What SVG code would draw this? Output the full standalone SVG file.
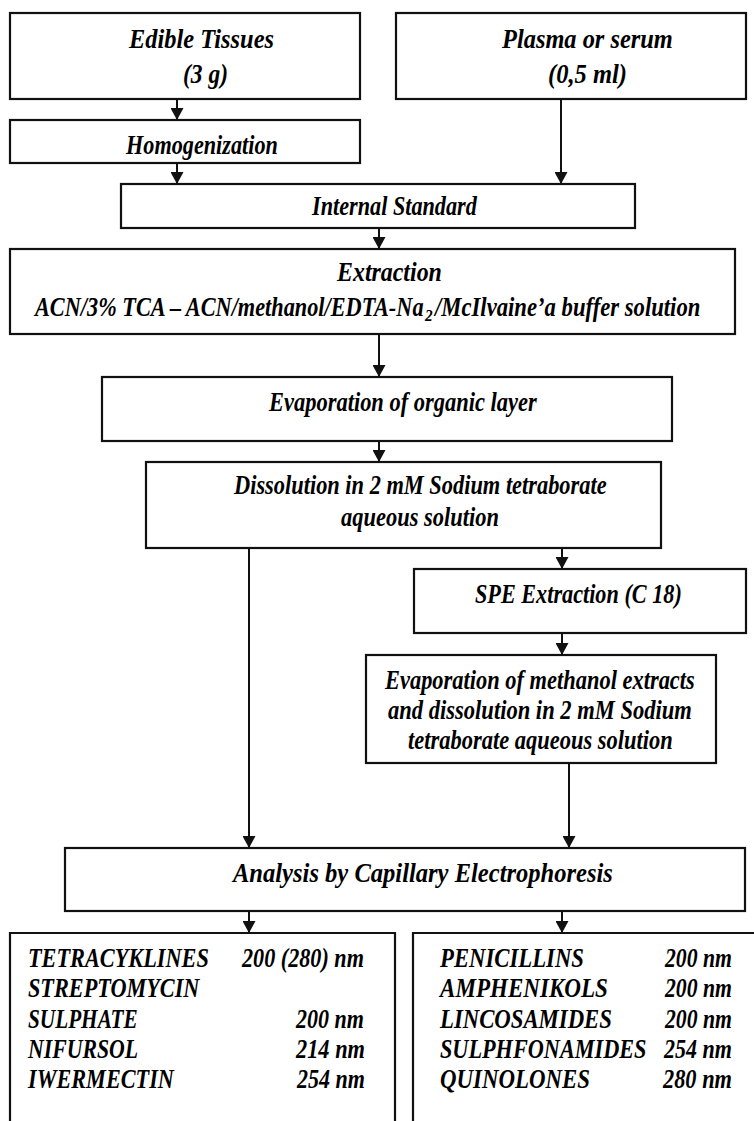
<svg xmlns="http://www.w3.org/2000/svg" width="754" height="1121" viewBox="0 0 754 1121">
<style>
.box{fill:none;stroke:#111;stroke-width:2.2}
.con{fill:none;stroke:#111;stroke-width:2}
text{font-family:"Liberation Serif","Times New Roman",serif;font-weight:bold;font-style:italic;font-size:28px;fill:#000}
text.sub{font-size:17px}
</style>
<defs>
<marker id="ah" viewBox="0 0 12 13" refX="12" refY="6.5" markerWidth="12" markerHeight="13" markerUnits="userSpaceOnUse" orient="auto">
<path d="M0,0 L12,6.5 L0,13 z" fill="#111"/>
</marker>
</defs>
<rect width="754" height="1121" fill="#fff"/>
<g id="connectors">
<line class="con" x1="177" y1="99" x2="177" y2="120" marker-end="url(#ah)"/>
<line class="con" x1="177" y1="163" x2="177" y2="184" marker-end="url(#ah)"/>
<line class="con" x1="561" y1="99" x2="561" y2="184" marker-end="url(#ah)"/>
<line class="con" x1="379" y1="228" x2="379" y2="249" marker-end="url(#ah)"/>
<line class="con" x1="379" y1="334" x2="379" y2="377" marker-end="url(#ah)"/>
<line class="con" x1="379" y1="441" x2="379" y2="462" marker-end="url(#ah)"/>
<line class="con" x1="562" y1="548" x2="562" y2="569" marker-end="url(#ah)"/>
<line class="con" x1="562" y1="633" x2="562" y2="655" marker-end="url(#ah)"/>
<line class="con" x1="249" y1="548" x2="249" y2="848" marker-end="url(#ah)"/>
<line class="con" x1="569" y1="763" x2="569" y2="848" marker-end="url(#ah)"/>
<line class="con" x1="249" y1="911" x2="249" y2="933" marker-end="url(#ah)"/>
<line class="con" x1="562" y1="911" x2="562" y2="933" marker-end="url(#ah)"/>
</g>
<g id="edible">
<rect class="box" x="10" y="13" width="350" height="86"/>
<text transform="translate(129,48) scale(0.873,1)">Edible Tissues</text>
<text transform="translate(183,83) scale(0.839,1)">(3 g)</text>
</g>
<g id="plasma">
<rect class="box" x="396" y="13" width="350" height="86"/>
<text transform="translate(502,48) scale(0.872,1)">Plasma or serum</text>
<text transform="translate(548,83) scale(0.876,1)">(0,5 ml)</text>
</g>
<g id="homogenization">
<rect class="box" x="10" y="120" width="350" height="43"/>
<text transform="translate(126,154) scale(0.794,1)">Homogenization</text>
</g>
<g id="internal-standard">
<rect class="box" x="121" y="184" width="514" height="44"/>
<text transform="translate(312,215) scale(0.794,1)">Internal Standard</text>
</g>
<g id="extraction">
<rect class="box" x="10" y="249" width="725" height="85"/>
<text transform="translate(337,281) scale(0.854,1)">Extraction</text>
<text transform="translate(35,316) scale(0.796,1)">ACN/3% TCA – ACN/methanol/EDTA-Na</text>
<text class="sub" transform="translate(425,321) scale(0.9,1)">2</text>
<text transform="translate(435,316) scale(0.81,1)">/McIlvaine’a buffer solution</text>
</g>
<g id="evap-organic">
<rect class="box" x="102" y="377" width="570" height="64"/>
<text transform="translate(269,411) scale(0.803,1)">Evaporation of organic layer</text>
</g>
<g id="dissolution">
<rect class="box" x="146" y="462" width="515" height="86"/>
<text transform="translate(234,494) scale(0.8,1)">Dissolution in 2 mM Sodium tetraborate</text>
<text transform="translate(341,526) scale(0.803,1)">aqueous solution</text>
</g>
<g id="spe">
<rect class="box" x="414" y="569" width="332" height="64"/>
<text transform="translate(475,603) scale(0.794,1)">SPE Extraction (C 18)</text>
</g>
<g id="evap-methanol">
<rect class="box" x="366" y="655" width="350" height="108"/>
<text transform="translate(385,689) scale(0.802,1)">Evaporation of methanol extracts</text>
<text transform="translate(388,719) scale(0.806,1)">and dissolution in 2 mM Sodium</text>
<text transform="translate(408,749) scale(0.803,1)">tetraborate aqueous solution</text>
</g>
<g id="analysis">
<rect class="box" x="65" y="848" width="680" height="63"/>
<text transform="translate(233,882) scale(0.877,1)">Analysis by Capillary Electrophoresis</text>
</g>
<g id="results-left">
<path class="box" d="M10,1125 V933 H395 V1125"/>
<text transform="translate(28,967) scale(0.797,1)">TETRACYKLINES</text>
<text transform="translate(242,967) scale(0.792,1)">200 (280) nm</text>
<text transform="translate(28,997) scale(0.795,1)">STREPTOMYCIN</text>
<text transform="translate(28,1028) scale(0.759,1)">SULPHATE</text>
<text transform="translate(296,1028) scale(0.787,1)">200 nm</text>
<text transform="translate(28,1058) scale(0.777,1)">NIFURSOL</text>
<text transform="translate(296,1058) scale(0.799,1)">214 nm</text>
<text transform="translate(28,1088) scale(0.795,1)">IWERMECTIN</text>
<text transform="translate(297,1088) scale(0.787,1)">254 nm</text>
</g>
<g id="results-right">
<path class="box" d="M413,1125 V933 H756"/>
<text transform="translate(440,967) scale(0.812,1)">PENICILLINS</text>
<text transform="translate(665,967) scale(0.776,1)">200 nm</text>
<text transform="translate(440,997) scale(0.824,1)">AMPHENIKOLS</text>
<text transform="translate(665,997) scale(0.776,1)">200 nm</text>
<text transform="translate(440,1028) scale(0.813,1)">LINCOSAMIDES</text>
<text transform="translate(665,1028) scale(0.776,1)">200 nm</text>
<text transform="translate(440,1058) scale(0.795,1)">SULPHFONAMIDES</text>
<text transform="translate(664,1058) scale(0.787,1)">254 nm</text>
<text transform="translate(440,1088) scale(0.817,1)">QUINOLONES</text>
<text transform="translate(663,1088) scale(0.799,1)">280 nm</text>
</g>
</svg>
